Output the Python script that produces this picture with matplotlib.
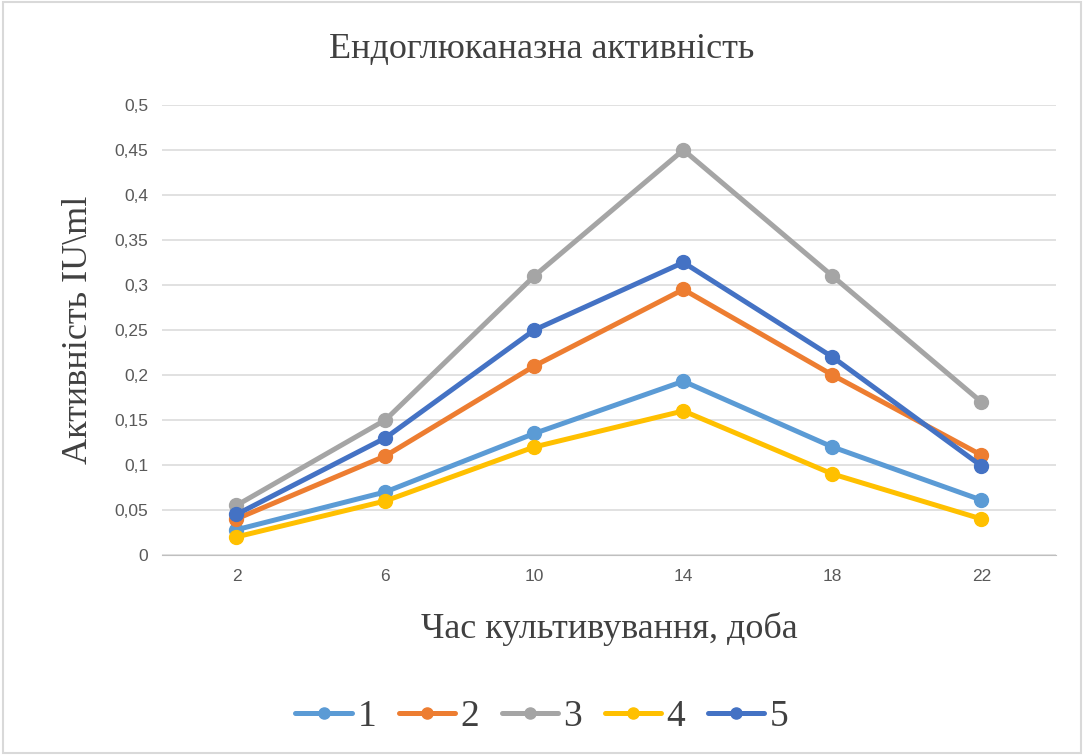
import matplotlib
matplotlib.use("Agg")
import matplotlib.pyplot as plt
from matplotlib.ticker import MultipleLocator, FuncFormatter

# --- data ---
DAYS = [2, 6, 10, 14, 18, 22]
S1 = [0.028, 0.070, 0.135, 0.193, 0.120, 0.061]
S2 = [0.040, 0.110, 0.210, 0.295, 0.200, 0.111]
S3 = [0.055, 0.150, 0.310, 0.450, 0.310, 0.170]
S4 = [0.020, 0.060, 0.120, 0.160, 0.090, 0.040]
S5 = [0.045, 0.130, 0.250, 0.325, 0.220, 0.099]
NAMES = ["1", "2", "3", "4", "5"]
COLORS = ["#5B9BD5", "#ED7D31", "#A5A5A5", "#FFC000", "#4472C4"]

SERIF = ["Liberation Serif", "DejaVu Serif"]
SANS = ["Liberation Sans", "DejaVu Sans"]

fig = plt.figure(figsize=(10.84, 7.55), dpi=100)
ax = fig.add_axes([0.1494, 0.265, 0.8246, 0.596])

xpos = list(range(len(DAYS)))
for name, ys, c in zip(NAMES, [S1, S2, S3, S4, S5], COLORS):
    ax.plot(xpos, ys, color=c, lw=3.6, marker="o", ms=10, label=name,
            solid_capstyle="round")

ax.set_xlim(-0.5, len(DAYS) - 0.5)
ax.set_ylim(0, 0.5)
ax.set_xticks(xpos)
ax.set_xticklabels([str(d) for d in DAYS])
ax.yaxis.set_major_locator(MultipleLocator(0.05))
ax.yaxis.set_major_formatter(FuncFormatter(lambda v, p: ("%g" % round(v, 2)).replace(".", ",")))
ax.grid(axis="y", color="#D9D9D9", lw=1.1)
ax.set_axisbelow(True)
for s in ["top", "right", "left"]:
    ax.spines[s].set_visible(False)
ax.spines["bottom"].set_color("#BFBFBF")
ax.tick_params(length=0, labelsize=12.5, labelcolor="#595959", pad=10)
for lab in ax.get_xticklabels() + ax.get_yticklabels():
    lab.set_family(SANS)

fig.text(0.5, 0.934, "Ендоглюканазна активність", ha="center", va="center",
         family=SERIF, fontsize=26, color="#404040")
ax.set_xlabel("Час культивування, доба", family=SERIF, fontsize=26,
              color="#404040", labelpad=20)
ax.set_ylabel("Активність IU\\ml", family=SERIF, fontsize=26,
              color="#404040", labelpad=14)

leg = fig.legend(loc="center", bbox_to_anchor=(0.5, 0.05), ncol=5, frameon=False,
                 prop={"family": SERIF, "size": 27}, handlelength=1.5,
                 handletextpad=0.15, columnspacing=0.6, markerscale=0.8)
for t in leg.get_texts():
    t.set_color("#404040")

# chart border
fig.patches.append(plt.Rectangle((0.003, 0.003), 0.994, 0.994, transform=fig.transFigure,
                                 fill=False, edgecolor="#D9D9D9", lw=1.5))

fig.savefig("out.png", dpi=100)
